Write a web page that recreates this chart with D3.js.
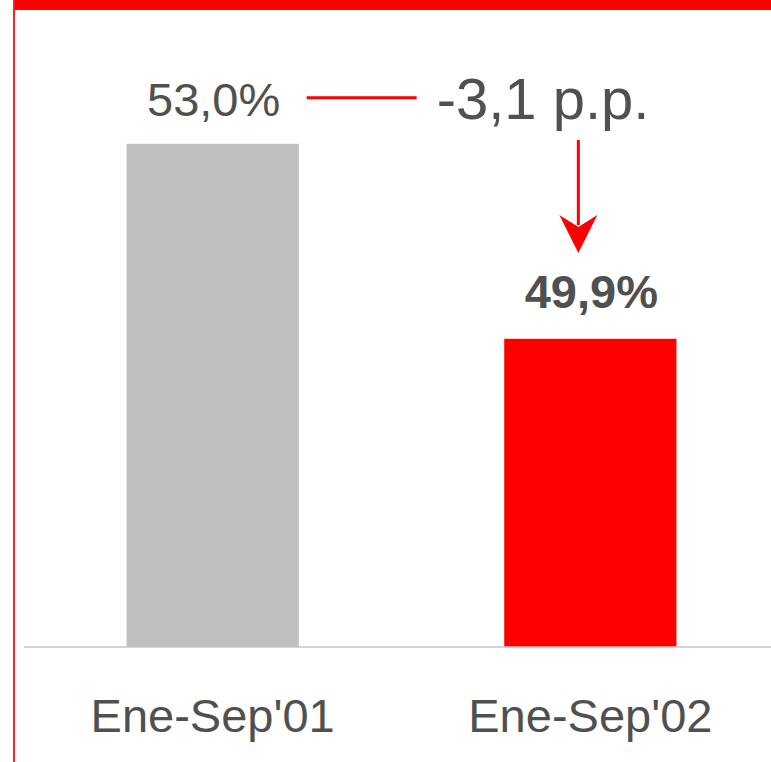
<!DOCTYPE html>
<html>
<head>
<meta charset="utf-8">
<script src="https://cdn.jsdelivr.net/npm/d3@7"></script>
<style>
  html, body { margin: 0; padding: 0; background: #fff; }
  svg { display: block; }
</style>
</head>
<body>
<svg id="chart"></svg>
<script>
let categories = ["Ene-Sep'01", "Ene-Sep'02"];
let values = [53.0, 49.9];
let barColors = ["#c0c0c0", "#ff0000"];
let yDomain = [45, 55];

let fmt = v => d3.format(".1f")(v).replace(".", ",").replace("\u2212", "-");

function getConfig() {
  let width = 771;
  let height = 762;
  let container = d3.select("#chart")
    .attr("width", width)
    .attr("height", height);
  return { width, height, container };
}

function getScales() {
  let x = d3.scaleBand()
    .domain(categories)
    .range([24, 779])
    .paddingInner(0.544)
    .paddingOuter(0.2715);
  let y = d3.scaleLinear()
    .domain(yDomain)
    .range([647, 18]);
  return { x, y };
}

function drawChart(config, scales) {
  let { container, width, height } = config;
  let { x, y } = scales;
  let textColor = "#505050";
  let font = "'Liberation Sans', Arial, sans-serif";

  // frame: top band and left rule
  container.append("rect")
    .attr("x", 13).attr("y", 0)
    .attr("width", width - 13).attr("height", 10)
    .attr("fill", "#ff0000");
  container.append("rect")
    .attr("x", 13).attr("y", 0)
    .attr("width", 2).attr("height", height)
    .attr("fill", "#ff2020");

  // bars
  container.selectAll("rect.bar")
    .data(values)
    .enter()
    .append("rect")
    .attr("class", "bar")
    .attr("x", (d, i) => x(categories[i]))
    .attr("y", d => y(d))
    .attr("width", x.bandwidth())
    .attr("height", d => y(yDomain[0]) - y(d))
    .attr("fill", (d, i) => barColors[i]);

  // baseline
  container.append("line")
    .attr("x1", 24).attr("x2", width)
    .attr("y1", y(yDomain[0])).attr("y2", y(yDomain[0]))
    .attr("stroke", "#c4c4c4")
    .attr("stroke-width", 1.5);

  // category labels
  container.selectAll("text.cat")
    .data(categories)
    .enter()
    .append("text")
    .attr("class", "cat")
    .attr("x", d => x(d) + x.bandwidth() / 2)
    .attr("y", 732)
    .attr("text-anchor", "middle")
    .attr("font-family", font)
    .attr("font-size", 47)
    .attr("fill", textColor)
    .text(d => d);

  // value labels
  container.selectAll("text.val")
    .data(values)
    .enter()
    .append("text")
    .attr("class", "val")
    .attr("x", (d, i) => x(categories[i]) + x.bandwidth() / 2 + 1)
    .attr("y", (d, i) => y(d) - (i === 0 ? 28 : 31))
    .attr("text-anchor", "middle")
    .attr("font-family", font)
    .attr("font-size", 47)
    .attr("font-weight", (d, i) => i === 1 ? "bold" : "normal")
    .attr("fill", textColor)
    .text(d => fmt(d) + "%");

  // change annotation
  let delta = values[1] - values[0];
  let lineY = y(values[0]) - 46;
  let x0 = x(categories[0]) + x.bandwidth() / 2;
  let x1 = x(categories[1]) + x.bandwidth() / 2;

  container.append("line")
    .attr("x1", x0 + 94).attr("x2", x0 + 204)
    .attr("y1", lineY).attr("y2", lineY)
    .attr("stroke", "#ff0000")
    .attr("stroke-width", 3);

  container.append("text")
    .attr("x", x0 + 224)
    .attr("y", 119)
    .attr("font-family", font)
    .attr("font-size", 58)
    .attr("fill", textColor)
    .text(fmt(delta) + " p.p.");

  let ax = x1 - 12;
  container.append("line")
    .attr("x1", ax).attr("x2", ax)
    .attr("y1", 140).attr("y2", 225)
    .attr("stroke", "#ff0000")
    .attr("stroke-width", 3);

  container.append("path")
    .attr("d", `M${ax},253 L${ax - 19},215 L${ax},227 L${ax + 19},215 Z`)
    .attr("fill", "#ff0000");
}

let config = getConfig();
let scales = getScales();
drawChart(config, scales);
</script>
</body>
</html>
